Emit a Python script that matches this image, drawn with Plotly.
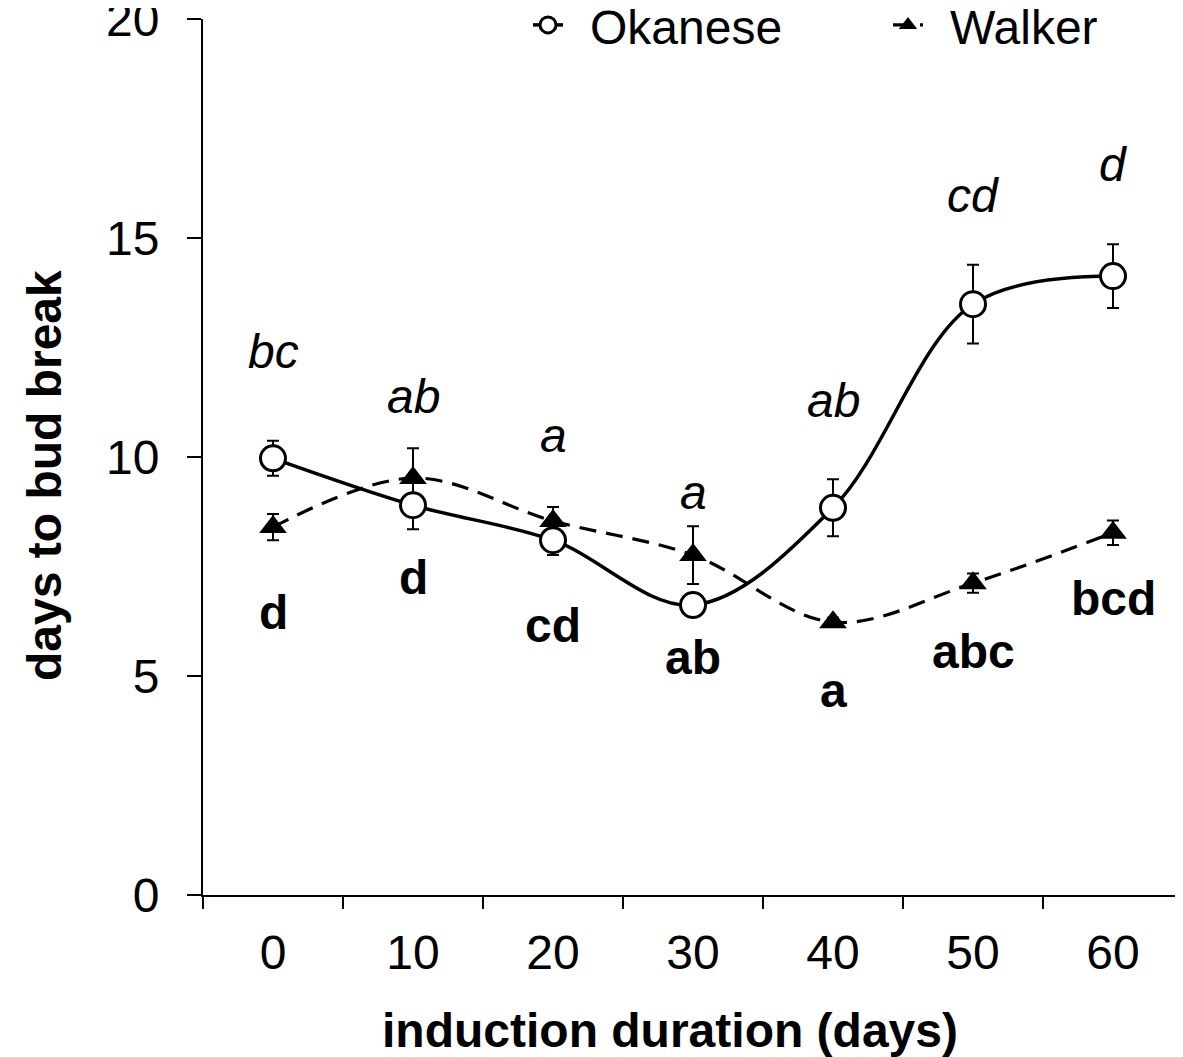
import plotly.graph_objects as go

durations = ["0", "10", "20", "30", "40", "50", "60"]
okanese = [9.97, 8.9, 8.1, 6.62, 8.84, 13.49, 14.13]
okanese_err = [0.4, 0.55, 0.34, 0.12, 0.65, 0.9, 0.73]
walker = [8.4, 9.52, 8.54, 7.76, 6.23, 7.12, 8.27]
walker_err = [0.3, 0.68, 0.32, 0.66, 0.1, 0.22, 0.28]
okanese_letters = ["bc", "ab", "a", "a", "ab", "cd", "d"]
walker_letters = ["d", "d", "cd", "ab", "a", "abc", "bcd"]
okanese_label_y = [12.4, 11.37, 10.5, 9.2, 11.3, 15.98, 16.67]
walker_label_y = [6.46, 7.24, 6.16, 5.43, 4.68, 5.55, 6.78]
series_names = ["Okanese", "Walker"]

FONT = "Liberation Sans, Arial, sans-serif"
FS = 48

# page has an 8px body margin; figure is sized to fit the window
OFF = 8
W, H = 1183 - OFF, 1057 - OFF
PL, PR, PT, PB = 203, 1183, 19, 895          # plot area in window pixels
ML, MB = PL - OFF, 1057 - PB
paper_h = H - MB                              # paper spans figure top..plot bottom
ydom_top = 1 - (PT - OFF) / paper_h


def px_x(p):
    return (p - PL) / (PR - PL)


def px_y(p):
    return (PB - p) / paper_h


fig = go.Figure()
fig.add_trace(go.Scatter(
    x=durations, y=walker, name="", legend="legend2", mode="lines+markers",
    line=dict(color="black", width=3.2, dash="17px,10px", shape="spline", smoothing=1),
    marker=dict(symbol="triangle-up", size=24, color="black"),
    error_y=dict(type="data", array=walker_err, color="black", thickness=2, width=6),
))
fig.add_trace(go.Scatter(
    x=durations, y=okanese, name="", legend="legend", mode="lines+markers",
    line=dict(color="black", width=3.5, shape="spline", smoothing=1),
    marker=dict(symbol="circle", size=25, color="white", line=dict(color="black", width=3)),
    error_y=dict(type="data", array=okanese_err, color="black", thickness=2, width=6),
))

for i, d in enumerate(durations):
    fig.add_annotation(x=i, y=okanese_label_y[i], text="<i>%s</i>" % okanese_letters[i],
                       showarrow=False, font=dict(family=FONT, size=FS, color="black"))
    fig.add_annotation(x=i, y=walker_label_y[i], text="<b>%s</b>" % walker_letters[i],
                       showarrow=False, font=dict(family=FONT, size=FS, color="black"))

# legend labels
for name, px in zip(series_names, [588, 948]):
    fig.add_annotation(xref="paper", yref="paper", x=px_x(px), y=px_y(28),
                       xanchor="left", yanchor="middle", text=name, showarrow=False,
                       font=dict(family=FONT, size=FS, color="black"))

fig.add_annotation(xref="paper", yref="paper", x=px_x(670), y=px_y(1030),
                   xanchor="center", yanchor="middle",
                   text="<b>induction duration (days)</b>", showarrow=False,
                   font=dict(family=FONT, size=FS, color="black"))
fig.add_annotation(xref="paper", yref="paper", x=px_x(44), y=px_y(476),
                   xanchor="center", yanchor="middle",
                   text="<b>days to bud break</b>", showarrow=False, textangle=-90,
                   font=dict(family=FONT, size=FS, color="black"))

leg_common = dict(orientation="h", xanchor="left", y=1, yanchor="top",
                  bgcolor="rgba(0,0,0,0)", font=dict(family=FONT, size=16, color="black"))

fig.update_layout(
    width=W, height=H,
    margin=dict(l=ML, r=0, t=0, b=MB, pad=0),
    paper_bgcolor="white", plot_bgcolor="white",
    font=dict(family=FONT, size=FS, color="black"),
    showlegend=True,
    legend=dict(x=px_x(528), **leg_common),
    legend2=dict(x=px_x(888), **leg_common),
    xaxis=dict(type="category", range=[-0.5, 6.5], tickson="boundaries",
               showline=True, linecolor="black", linewidth=2,
               ticks="outside", ticklen=12, tickwidth=2, tickcolor="black",
               showgrid=False, zeroline=False, automargin=False,
               ticklabelstandoff=14,
               tickfont=dict(family=FONT, size=FS, color="black")),
    yaxis=dict(range=[0, 20], tickvals=[0, 5, 10, 15, 20], domain=[0, ydom_top],
               showline=True, linecolor="black", linewidth=2,
               ticks="outside", ticklen=14, tickwidth=2, tickcolor="black",
               showgrid=False, zeroline=False, automargin=False,
               ticklabelstandoff=18, ticklabeloverflow="allow",
               tickfont=dict(family=FONT, size=FS, color="black")),
)

fig.write_html("out.html")
